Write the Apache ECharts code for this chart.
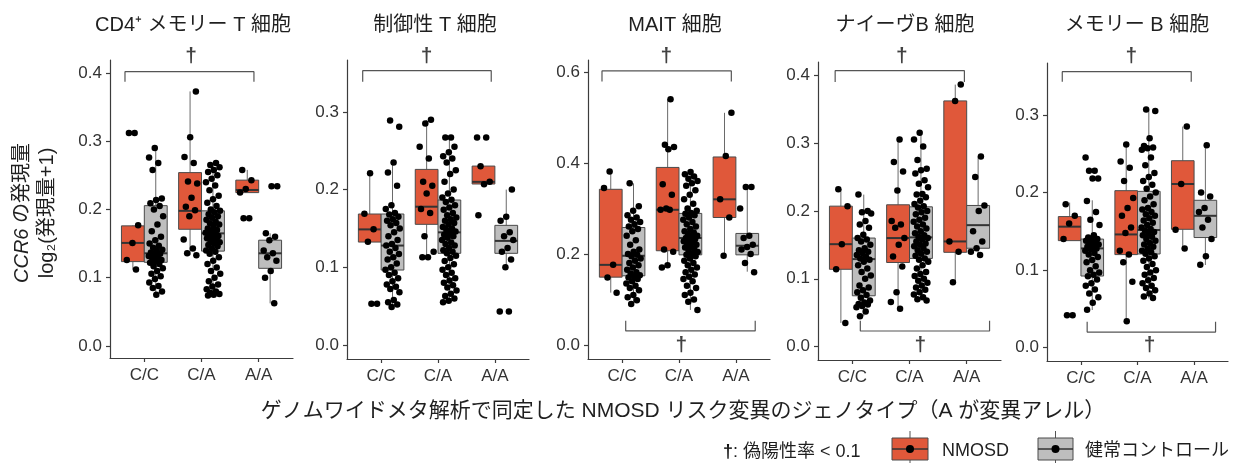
<!DOCTYPE html>
<html><head><meta charset="utf-8">
<script src="https://cdn.jsdelivr.net/npm/echarts@6/dist/echarts.min.js"></script>
<style>html,body{margin:0;padding:0;background:#fff;}#c{width:1234px;height:463px;}</style>
</head><body><div id="c"></div>
<script>
// ---------------- DATA ----------------
const genotypes = ['C/C', 'C/A', 'A/A'];
const groups = ['NMOSD', '健常コントロール'];
const panelTitles = ['CD4⁺ メモリー T 細胞', '制御性 T 細胞', 'MAIT 細胞', 'ナイーヴB 細胞', 'メモリー B 細胞'];
const yTicks1 = [0, 0.1, 0.2, 0.3, 0.4];
const yTicks2 = [0, 0.1, 0.2, 0.3];
const yTicks3 = [0, 0.2, 0.4, 0.6];
const yTicks4 = [0, 0.1, 0.2, 0.3, 0.4];
const yTicks5 = [0, 0.1, 0.2, 0.3];

// box stats per genotype: [low whisker, Q1, median, Q3, high whisker]
const cd4BoxN = [[0.112, 0.1236, 0.151, 0.176, 0.177], [0.133, 0.171, 0.198, 0.254, 0.373], [0.2247, 0.2247, 0.2286, 0.243, 0.258]];
const cd4BoxC = [[0.075, 0.1226, 0.1358, 0.2056, 0.292], [0.075, 0.139, 0.165, 0.198, 0.268], [0.0625, 0.1138, 0.1358, 0.155, 0.165]];
const tregBoxN = [[0.1325, 0.1325, 0.1488, 0.1686, 0.2208], [0.1124, 0.1553, 0.178, 0.226, 0.2896], [0.2072, 0.2072, 0.21, 0.2303, 0.2303]];
const tregBoxC = [[0.049, 0.0965, 0.128, 0.1686, 0.2355], [0.0558, 0.118, 0.145, 0.1866, 0.268], [0.1008, 0.118, 0.134, 0.154, 0.2]];
const maitBoxN = [[0.115, 0.149, 0.176, 0.342, 0.381], [0.17, 0.207, 0.297, 0.39, 0.54], [0.196, 0.28, 0.32, 0.413, 0.51]];
const maitBoxC = [[0.09, 0.152, 0.196, 0.258, 0.355], [0.077, 0.198, 0.235, 0.289, 0.38], [0.161, 0.198, 0.218, 0.245, 0.347]];
const naiveBoxN = [[0.035, 0.114, 0.151, 0.207, 0.232], [0.056, 0.124, 0.16, 0.209, 0.305], [0.095, 0.139, 0.155, 0.362, 0.386]];
const naiveBoxC = [[0.045, 0.075, 0.129, 0.16, 0.224], [0.068, 0.13, 0.161, 0.206, 0.315], [0.133, 0.145, 0.179, 0.208, 0.28]];
const memBBoxN = [[0.138, 0.138, 0.156, 0.169, 0.187], [0.034, 0.12, 0.146, 0.2024, 0.2626], [0.128, 0.1526, 0.211, 0.241, 0.285]];
const memBBoxC = [[0.0486, 0.0924, 0.128, 0.14, 0.19], [0.0636, 0.1208, 0.1517, 0.2015, 0.307], [0.1066, 0.142, 0.17, 0.19, 0.261]];

// individual samples per genotype
const cd4PtsN = [
  [0.312, 0.312, 0.177, 0.151, 0.126, 0.112],
  [0.373, 0.306, 0.277, 0.268, 0.241, 0.238, 0.217, 0.204, 0.199, 0.19, 0.156, 0.143, 0.136, 0.133],
  [0.258, 0.243, 0.23, 0.225, 0.187, 0.187]];
const cd4PtsC = [
  [0.290, 0.276, 0.268, 0.258, 0.216, 0.214, 0.209, 0.205, 0.2, 0.19, 0.178, 0.168, 0.16, 0.155, 0.15, 0.147, 0.144, 0.141, 0.139, 0.137, 0.135, 0.134, 0.132, 0.13, 0.128, 0.126, 0.124, 0.122, 0.12, 0.117, 0.114, 0.11, 0.106, 0.102, 0.098, 0.093, 0.088, 0.085, 0.08, 0.075],
  [0.268, 0.265, 0.262, 0.258, 0.255, 0.25, 0.245, 0.24, 0.235, 0.228, 0.22, 0.215, 0.21, 0.205, 0.2, 0.198, 0.196, 0.193, 0.19, 0.188, 0.185, 0.182, 0.18, 0.178, 0.175, 0.172, 0.17, 0.168, 0.166, 0.165, 0.163, 0.161, 0.16, 0.158, 0.156, 0.154, 0.152, 0.15, 0.148, 0.146, 0.143, 0.14, 0.138, 0.135, 0.13, 0.125, 0.12, 0.115, 0.11, 0.106, 0.1, 0.095, 0.09, 0.087, 0.083, 0.08, 0.078, 0.076, 0.075, 0.074],
  [0.234, 0.234, 0.165, 0.16, 0.155, 0.14, 0.136, 0.13, 0.125, 0.11, 0.1, 0.0625]];
const tregPtsN = [
  [0.221, 0.169, 0.149, 0.133, 0.053, 0.053],
  [0.29, 0.285, 0.255, 0.24, 0.21, 0.205, 0.195, 0.175, 0.17, 0.14, 0.12, 0.113, 0.113],
  [0.267, 0.267, 0.23, 0.21, 0.207, 0.167]];
const tregPtsC = [
  [0.289, 0.281, 0.235, 0.222, 0.205, 0.18, 0.175, 0.17, 0.168, 0.165, 0.162, 0.16, 0.157, 0.154, 0.15, 0.145, 0.14, 0.135, 0.13, 0.128, 0.125, 0.12, 0.117, 0.113, 0.11, 0.105, 0.1, 0.097, 0.093, 0.09, 0.086, 0.082, 0.078, 0.075, 0.072, 0.068, 0.058, 0.055, 0.052, 0.049],
  [0.267, 0.267, 0.255, 0.248, 0.243, 0.24, 0.235, 0.225, 0.22, 0.21, 0.2, 0.195, 0.19, 0.187, 0.184, 0.18, 0.177, 0.174, 0.17, 0.167, 0.164, 0.162, 0.16, 0.157, 0.155, 0.152, 0.15, 0.148, 0.146, 0.144, 0.142, 0.14, 0.138, 0.135, 0.132, 0.13, 0.128, 0.125, 0.122, 0.12, 0.118, 0.115, 0.112, 0.108, 0.104, 0.1, 0.097, 0.093, 0.09, 0.086, 0.083, 0.08, 0.077, 0.074, 0.07, 0.066, 0.063, 0.06, 0.057, 0.055],
  [0.2, 0.165, 0.16, 0.145, 0.14, 0.135, 0.125, 0.12, 0.11, 0.1, 0.043, 0.043]];
const maitPtsN = [
  [0.381, 0.345, 0.176, 0.148, 0.115],
  [0.54, 0.44, 0.435, 0.43, 0.353, 0.33, 0.3, 0.297, 0.297, 0.21, 0.205, 0.175, 0.17],
  [0.51, 0.415, 0.32, 0.28, 0.196]];
const maitPtsC = [
  [0.355, 0.305, 0.295, 0.285, 0.28, 0.275, 0.27, 0.265, 0.26, 0.255, 0.25, 0.24, 0.23, 0.22, 0.21, 0.205, 0.2, 0.198, 0.195, 0.19, 0.185, 0.18, 0.175, 0.17, 0.165, 0.16, 0.157, 0.153, 0.15, 0.148, 0.145, 0.14, 0.135, 0.13, 0.125, 0.12, 0.11, 0.105, 0.098, 0.09],
  [0.38, 0.375, 0.37, 0.365, 0.36, 0.355, 0.35, 0.34, 0.33, 0.32, 0.31, 0.3, 0.295, 0.29, 0.288, 0.285, 0.28, 0.275, 0.27, 0.265, 0.26, 0.255, 0.25, 0.247, 0.244, 0.24, 0.237, 0.235, 0.232, 0.23, 0.228, 0.225, 0.222, 0.22, 0.217, 0.214, 0.21, 0.207, 0.204, 0.2, 0.198, 0.195, 0.19, 0.185, 0.18, 0.175, 0.17, 0.165, 0.16, 0.155, 0.15, 0.145, 0.14, 0.13, 0.125, 0.115, 0.11, 0.1, 0.095, 0.077],
  [0.347, 0.347, 0.3, 0.24, 0.235, 0.22, 0.215, 0.21, 0.2, 0.18, 0.16]];
const naivePtsN = [
  [0.232, 0.207, 0.151, 0.114, 0.035],
  [0.305, 0.272, 0.258, 0.23, 0.185, 0.18, 0.175, 0.16, 0.15, 0.133, 0.118, 0.08, 0.066, 0.056],
  [0.386, 0.362, 0.155, 0.14, 0.095]];
const naivePtsC = [
  [0.224, 0.2, 0.198, 0.196, 0.185, 0.18, 0.175, 0.165, 0.16, 0.158, 0.155, 0.15, 0.145, 0.142, 0.14, 0.138, 0.135, 0.132, 0.13, 0.128, 0.125, 0.12, 0.115, 0.11, 0.105, 0.1, 0.09, 0.087, 0.083, 0.08, 0.076, 0.072, 0.068, 0.065, 0.063, 0.062, 0.06, 0.058, 0.052, 0.045],
  [0.315, 0.305, 0.295, 0.275, 0.262, 0.26, 0.255, 0.245, 0.24, 0.235, 0.225, 0.224, 0.22, 0.215, 0.21, 0.207, 0.205, 0.2, 0.198, 0.195, 0.19, 0.187, 0.184, 0.18, 0.177, 0.174, 0.17, 0.167, 0.164, 0.162, 0.16, 0.158, 0.155, 0.152, 0.15, 0.148, 0.145, 0.142, 0.14, 0.137, 0.134, 0.13, 0.128, 0.125, 0.12, 0.115, 0.11, 0.107, 0.104, 0.1, 0.097, 0.094, 0.09, 0.087, 0.084, 0.08, 0.077, 0.073, 0.07, 0.068],
  [0.28, 0.25, 0.208, 0.2, 0.17, 0.155, 0.145, 0.14, 0.135]];
const memBPtsN = [
  [0.185, 0.17, 0.16, 0.14, 0.042, 0.042],
  [0.262, 0.24, 0.232, 0.215, 0.193, 0.18, 0.17, 0.155, 0.148, 0.125, 0.12, 0.11, 0.085, 0.034],
  [0.285, 0.211, 0.152, 0.128]];
const memBPtsC = [
  [0.245, 0.228, 0.228, 0.218, 0.218, 0.189, 0.175, 0.165, 0.158, 0.145, 0.142, 0.14, 0.139, 0.138, 0.136, 0.135, 0.133, 0.131, 0.13, 0.128, 0.127, 0.125, 0.122, 0.12, 0.117, 0.113, 0.11, 0.105, 0.1, 0.097, 0.094, 0.092, 0.088, 0.083, 0.08, 0.075, 0.07, 0.065, 0.058, 0.049],
  [0.307, 0.305, 0.27, 0.26, 0.258, 0.257, 0.255, 0.245, 0.235, 0.225, 0.22, 0.215, 0.21, 0.205, 0.2, 0.195, 0.19, 0.185, 0.18, 0.178, 0.175, 0.172, 0.17, 0.167, 0.164, 0.161, 0.158, 0.155, 0.153, 0.151, 0.149, 0.147, 0.145, 0.143, 0.14, 0.138, 0.135, 0.133, 0.13, 0.128, 0.125, 0.123, 0.121, 0.118, 0.115, 0.112, 0.108, 0.104, 0.1, 0.097, 0.094, 0.09, 0.087, 0.083, 0.08, 0.077, 0.074, 0.07, 0.066, 0.064],
  [0.261, 0.2, 0.195, 0.18, 0.175, 0.165, 0.155, 0.14, 0.118, 0.107]];

// ---------------- LAYOUT / STYLE ----------------
const FONT = '"Liberation Sans", "Noto Sans CJK JP", sans-serif';
const RED = '#E0583A', GRAY = '#BEBEBE', AXIS = '#3c3c3c', TXT = '#1f1f1f';
const DODGE = 0.2, BOX_W = 0.4, JW = 0.13;

const panels = [
  {box: [cd4BoxN, cd4BoxC], pts: [cd4PtsN, cd4PtsC], ticks: yTicks1, left: 110, top: 60, width: 183, height: 298, ymin: -0.0176, ymax: 0.419, titleX: 193,
   brackets: [{x1: 0.662, x2: 2.917, y: 0.4019, yt: 0.3873, dx: 1.816, dy: 0.425}]},
  {box: [tregBoxN, tregBoxC], pts: [tregPtsN, tregPtsC], ticks: yTicks2, left: 347, top: 60, width: 182, height: 299, ymin: -0.018, ymax: 0.3668, titleX: 435,
   brackets: [{x1: 0.676, x2: 2.936, y: 0.353, yt: 0.3389, dx: 1.80, dy: 0.372}]},
  {box: [maitBoxN, maitBoxC], pts: [maitPtsN, maitPtsC], ticks: yTicks3, left: 588, top: 60, width: 182, height: 299, ymin: -0.0308, ymax: 0.626, titleX: 675,
   brackets: [{x1: 0.646, x2: 2.92, y: 0.602, yt: 0.5787, dx: 1.778, dy: 0.635},
              {x1: 1.063, x2: 3.34, y: 0.0308, yt: 0.0534, dx: 2.04, dy: 0.0}]},
  {box: [naiveBoxN, naiveBoxC], pts: [naivePtsN, naivePtsC], ticks: yTicks4, left: 818, top: 62, width: 183, height: 298, ymin: -0.0196, ymax: 0.4193, titleX: 905,
   brackets: [{x1: 0.70, x2: 2.96, y: 0.4065, yt: 0.390, dx: 1.868, dy: 0.428},
              {x1: 1.14, x2: 3.40, y: 0.0231, yt: 0.0383, dx: 2.188, dy: 0.0025}]},
  {box: [memBBoxN, memBBoxC], pts: [memBPtsN, memBPtsC], ticks: yTicks5, left: 1047, top: 63, width: 181, height: 298, ymin: -0.0171, ymax: 0.3669, titleX: 1137,
   brackets: [{x1: 0.67, x2: 2.95, y: 0.3557, yt: 0.3428, dx: 1.89, dy: 0.376},
              {x1: 1.11, x2: 3.38, y: 0.0202, yt: 0.0335, dx: 2.214, dy: 0.0035}]}
];

function jit(i, seed) {
  const f = ((i + 1) * 0.6180339887 + seed * 0.2719) % 1;
  return (f - 0.5) * 2 * JW;
}

function boxRender(color) {
  return function (params, api) {
    const x = api.value(0), lo = api.value(1), q1 = api.value(2), md = api.value(3), q3 = api.value(4), hi = api.value(5);
    const h = BOX_W / 2;
    const tl = api.coord([x - h, q3]), br = api.coord([x + h, q1]);
    const ml = api.coord([x - h, md]), mr = api.coord([x + h, md]);
    const pHi = api.coord([x, hi]), pQ3 = api.coord([x, q3]), pQ1 = api.coord([x, q1]), pLo = api.coord([x, lo]);
    return {type: 'group', children: [
      {type: 'line', shape: {x1: pHi[0], y1: pHi[1], x2: pQ3[0], y2: pQ3[1]}, style: {stroke: '#6a6a6a', lineWidth: 1}},
      {type: 'line', shape: {x1: pQ1[0], y1: pQ1[1], x2: pLo[0], y2: pLo[1]}, style: {stroke: '#6a6a6a', lineWidth: 1}},
      {type: 'rect', shape: {x: tl[0], y: tl[1], width: br[0] - tl[0], height: br[1] - tl[1]}, style: {fill: color, stroke: '#4a4a4a', lineWidth: 1}},
      {type: 'line', shape: {x1: ml[0], y1: ml[1], x2: mr[0], y2: mr[1]}, style: {stroke: '#333', lineWidth: 2}}
    ]};
  };
}

const grid = [], xAxis = [], yAxis = [], series = [];
panels.forEach((p, pi) => {
  grid.push({left: p.left, top: p.top, width: p.width, height: p.height, containLabel: false});
  xAxis.push({type: 'value', gridIndex: pi, min: 0.4, max: 3.6,
    axisLine: {show: true, onZero: false, lineStyle: {color: AXIS, width: 1.2}},
    axisTick: {show: true, customValues: [1, 2, 3], length: 4, lineStyle: {color: AXIS, width: 1.2}},
    axisLabel: {customValues: [1, 2, 3], formatter: v => genotypes[Math.round(v) - 1], fontSize: 17, color: '#333', margin: 9, fontFamily: FONT},
    splitLine: {show: false}});
  yAxis.push({type: 'value', gridIndex: pi, min: p.ymin, max: p.ymax,
    axisLine: {show: true, onZero: false, lineStyle: {color: AXIS, width: 1.2}},
    axisTick: {show: true, customValues: p.ticks, length: 4, lineStyle: {color: AXIS, width: 1.2}},
    axisLabel: {customValues: p.ticks, formatter: v => v.toFixed(1), fontSize: 17, color: '#333', margin: 8, fontFamily: FONT},
    splitLine: {show: false}});
  [0, 1].forEach(gi => {
    const off = gi === 0 ? -DODGE : DODGE;
    series.push({type: 'custom', name: groups[gi], xAxisIndex: pi, yAxisIndex: pi, z: 2,
      renderItem: boxRender(gi === 0 ? RED : GRAY),
      data: p.box[gi].map((s, k) => [k + 1 + off].concat(s)), silent: true, clip: false});
  });
  [0, 1].forEach(gi => {
    const off = gi === 0 ? -DODGE : DODGE;
    const data = [];
    p.pts[gi].forEach((arr, k) => arr.forEach((v, i) => data.push([k + 1 + off + jit(i, pi * 7 + gi * 3 + k), v])));
    series.push({type: 'scatter', xAxisIndex: pi, yAxisIndex: pi, z: 5, symbolSize: 6.5,
      itemStyle: {color: '#000', opacity: 1}, data: data, silent: true, clip: false});
  });
  p.brackets.forEach(b => {
    series.push({type: 'line', xAxisIndex: pi, yAxisIndex: pi, z: 4, symbol: 'none', silent: true,
      lineStyle: {color: '#555', width: 1.2},
      data: [[b.x1, b.yt], [b.x1, b.y], [b.x2, b.y], [b.x2, b.yt]]});
    series.push({type: 'scatter', xAxisIndex: pi, yAxisIndex: pi, z: 6, symbolSize: 0, silent: true, clip: false,
      label: {show: true, position: 'inside', formatter: '†', fontSize: 21, fontWeight: 'bold', color: '#111', fontFamily: FONT},
      data: [[b.dx, b.dy]]});
  });
});

const graphic = [];
panels.forEach((p, pi) => {
  graphic.push({type: 'text', x: p.titleX, y: 25, style: {text: panelTitles[pi], font: '20px ' + FONT, fill: TXT, align: 'center', verticalAlign: 'middle'}});
});
// y-axis title (two rotated lines)
graphic.push({type: 'text', x: 22, y: 213, rotation: Math.PI / 2,
  style: {text: '{i|CCR6}{n| の発現量}', align: 'center', verticalAlign: 'middle', fill: TXT,
    rich: {i: {fontStyle: 'italic', fontSize: 20, fontFamily: FONT, fill: TXT}, n: {fontSize: 20, fontFamily: FONT, fill: TXT}}}});
graphic.push({type: 'text', x: 47, y: 213, rotation: Math.PI / 2,
  style: {text: 'log₂(発現量+1)', font: '20px ' + FONT, fill: TXT, align: 'center', verticalAlign: 'middle'}});
// x-axis title
graphic.push({type: 'text', x: 683, y: 411, style: {text: 'ゲノムワイドメタ解析で同定した NMOSD リスク変異のジェノタイプ（A が変異アレル）', font: '21px ' + FONT, fill: TXT, align: 'center', verticalAlign: 'middle'}});
// legend
graphic.push({type: 'text', x: 723, y: 452, style: {text: '{b|†}{n|: 偽陽性率 < 0.1}', align: 'left', verticalAlign: 'middle', fill: TXT,
  rich: {b: {fontSize: 18, fontWeight: 'bold', fontFamily: FONT, fill: '#111'}, n: {fontSize: 18, fontFamily: FONT, fill: TXT}}}});
function legendKey(x0, w, color) {
  const cx = x0 + w / 2;
  graphic.push({type: 'line', shape: {x1: cx, y1: 431, x2: cx, y2: 438}, style: {stroke: '#555', lineWidth: 1}});
  graphic.push({type: 'line', shape: {x1: cx, y1: 460, x2: cx, y2: 463}, style: {stroke: '#555', lineWidth: 1}});
  graphic.push({type: 'rect', shape: {x: x0, y: 438, width: w, height: 22}, style: {fill: color, stroke: '#4a4a4a', lineWidth: 1}});
  graphic.push({type: 'line', shape: {x1: x0, y1: 449, x2: x0 + w, y2: 449}, style: {stroke: '#333', lineWidth: 1.5}});
  graphic.push({type: 'circle', shape: {cx: cx, cy: 449, r: 4}, style: {fill: '#000'}});
}
legendKey(892, 36, RED);
graphic.push({type: 'text', x: 942, y: 451, style: {text: groups[0], font: '18px ' + FONT, fill: TXT, align: 'left', verticalAlign: 'middle'}});
legendKey(1038, 35, GRAY);
graphic.push({type: 'text', x: 1085, y: 451, style: {text: groups[1], font: '18px ' + FONT, fill: TXT, align: 'left', verticalAlign: 'middle'}});

const chart = echarts.init(document.getElementById('c'), null, {renderer: 'canvas'});
chart.setOption({backgroundColor: '#fff', animation: false, grid, xAxis, yAxis, series, graphic});
</script></body></html>
